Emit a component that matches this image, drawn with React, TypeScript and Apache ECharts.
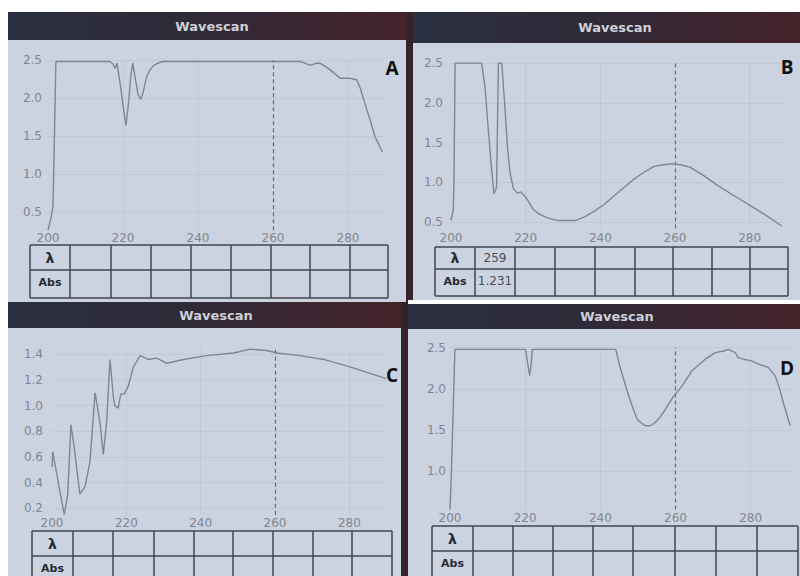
import React, { useEffect, useRef } from "react";
import * as echarts from "echarts";

// ---------- data ----------
const wavelengthA = [200, 200.7, 201.3, 201.6, 201.9, 202.1, 210, 216.5, 217.3, 217.9, 218.4, 219.2, 220, 220.8, 221.5, 222.1, 222.6, 223.3, 224, 224.7, 225.4, 226.3, 227.2, 228, 229.3, 230.7, 250, 267.2, 268.5, 269.9, 271, 272.5, 273.8, 275, 276, 277.9, 280.5, 282.3, 283.2, 284, 285, 285.9, 287.2, 288.3, 289.2];
const absorbanceA = [0.26, 0.4, 0.57, 1.2, 1.97, 2.48, 2.48, 2.48, 2.45, 2.39, 2.46, 2.2, 1.9, 1.64, 1.95, 2.3, 2.46, 2.25, 2.05, 1.98, 2.08, 2.28, 2.37, 2.42, 2.46, 2.48, 2.48, 2.48, 2.46, 2.43, 2.45, 2.46, 2.42, 2.38, 2.34, 2.26, 2.26, 2.24, 2.14, 2.01, 1.85, 1.71, 1.49, 1.38, 1.29];

const wavelengthB = [200, 200.6, 200.8, 201.1, 208.2, 209.1, 210, 210.8, 211.5, 211.9, 212.2, 212.7, 213.6, 214.5, 215.2, 215.8, 216.7, 217.8, 218.6, 219.5, 220.5, 222, 223.6, 226, 228.4, 233.5, 236, 238.5, 241, 243.7, 246.5, 249, 251.5, 254.4, 257, 259, 261.5, 264, 267.5, 271.1, 275.5, 280.1, 284.5, 288.6];
const absorbanceB = [0.52, 0.65, 1.03, 2.5, 2.5, 2.2, 1.66, 1.2, 0.86, 0.9, 0.94, 2.5, 2.5, 1.9, 1.4, 1.12, 0.92, 0.86, 0.88, 0.84, 0.78, 0.66, 0.6, 0.55, 0.52, 0.52, 0.57, 0.64, 0.72, 0.83, 0.94, 1.04, 1.12, 1.2, 1.22, 1.231, 1.22, 1.19, 1.09, 0.97, 0.84, 0.71, 0.58, 0.45];

const wavelengthC = [200, 200.2, 201.7, 203.3, 204.2, 205.1, 205.9, 207.5, 208.9, 210.2, 211.6, 212.9, 213.8, 214.7, 215.6, 216.5, 216.9, 217.8, 218.5, 219.4, 220.5, 221.9, 223.7, 225.9, 228.2, 230.9, 235.4, 241.6, 248.8, 253.3, 257.8, 260.5, 266.8, 273.1, 280.4, 289.9];
const absorbanceC = [0.52, 0.64, 0.4, 0.15, 0.3, 0.85, 0.69, 0.31, 0.37, 0.56, 1.1, 0.87, 0.62, 0.87, 1.36, 1.07, 1.0, 0.98, 1.09, 1.09, 1.15, 1.3, 1.39, 1.36, 1.37, 1.33, 1.36, 1.39, 1.41, 1.44, 1.43, 1.41, 1.39, 1.36, 1.3, 1.21];

const wavelengthD = [200, 200.4, 200.7, 201.1, 201.3, 220.1, 220.7, 221.2, 221.6, 221.9, 244.1, 245.4, 246.5, 247.6, 248.7, 249.8, 251, 252, 253.3, 254.6, 256, 257.3, 259.5, 261.7, 264.4, 267.9, 270.6, 272.8, 274.1, 275.9, 276.7, 278.1, 280.3, 282.1, 284.7, 286.5, 287.7, 288.7, 290.5];
const absorbanceD = [0.53, 1.02, 1.51, 2.16, 2.48, 2.48, 2.3, 2.16, 2.3, 2.48, 2.48, 2.24, 2.07, 1.91, 1.76, 1.63, 1.58, 1.55, 1.55, 1.59, 1.66, 1.75, 1.91, 2.03, 2.22, 2.36, 2.44, 2.46, 2.48, 2.44, 2.38, 2.36, 2.34, 2.3, 2.26, 2.16, 2.0, 1.83, 1.55];

const xTickLabels = [200, 220, 240, 260, 280];
const yTicksA = [0.5, 1.0, 1.5, 2.0, 2.5];
const yTicksB = [0.5, 1.0, 1.5, 2.0, 2.5];
const yTicksC = [0.2, 0.4, 0.6, 0.8, 1.0, 1.2, 1.4];
const yTicksD = [1.0, 1.5, 2.0, 2.5];
const cursorWavelength = 260;
const panelLetters = ["A", "B", "C", "D"];
const headerTitle = "Wavescan";
const rowLabels = ["λ", "Abs"];
const readoutB = ["259", "1.231"];

// ---------- layout ----------
const PANEL_BG = "#cbd3e1";
const CURVE = "#80858f";
const GRIDLINE = "#c0c8d6";
const LABEL = "#80858f";
const TABLE_LINE = "#40444e";
const FONT = '"DejaVu Sans", "Liberation Sans", sans-serif';

const panels = [
  {
    wl: wavelengthA, abs: absorbanceA, yTicks: yTicksA, yMin: 0.26, yMax: 2.5, xMax: 290,
    grid: { left: 48, top: 60, width: 337.5, height: 170.2 }, xMargin: 2, yMargin: 6,
    bg: [8, 12, 398, 290], header: [8, 12, 398, 28], titleX: 212,
    letter: [392, 68],
    cols: [30, 70, 111, 151, 191, 231, 271, 310, 350, 388], rows: [245, 270, 298],
  },
  {
    wl: wavelengthB, abs: absorbanceB, yTicks: yTicksB, yMin: 0.42, yMax: 2.5, xMax: 290,
    grid: { left: 451, top: 63, width: 336, height: 165.4 }, xMargin: 4, yMargin: 8,
    bg: [413, 12, 387, 288], header: [413, 12, 387, 31], titleX: 615,
    letter: [787, 67],
    cols: [435, 475, 515, 555, 595, 635, 673, 712, 750, 788], rows: [247, 269, 296],
  },
  {
    wl: wavelengthC, abs: absorbanceC, yTicks: yTicksC, yMin: 0.15, yMax: 1.45, xMax: 290,
    grid: { left: 52, top: 347.9, width: 334.5, height: 166.8 }, xMargin: 2, yMargin: 9,
    bg: [8, 302, 393, 274], header: [8, 302, 393, 26], titleX: 216,
    letter: [392, 375],
    cols: [32, 73, 113, 154, 194, 233, 273, 313, 352, 392], rows: [531, 556, 582],
  },
  {
    wl: wavelengthD, abs: absorbanceD, yTicks: yTicksD, yMin: 0.53, yMax: 2.5, xMax: 291,
    grid: { left: 450, top: 347.7, width: 342, height: 161.9 }, xMargin: 2, yMargin: 4,
    bg: [408, 304, 392, 272], header: [408, 304, 392, 25], titleX: 617,
    letter: [787, 368],
    cols: [432, 473, 513, 553, 593, 633, 675, 716, 757, 798], rows: [526, 551, 582],
  },
];

function buildGraphics() {
  const els: any[] = [];
  // dark frame bands between the screens
  els.push({ type: "rect", z: -20, shape: { x: 400, y: 12, width: 14, height: 564 }, style: { fill: "#35222a" } });
  panels.forEach((p, i) => {
    els.push({ type: "rect", z: -10, shape: { x: p.bg[0], y: p.bg[1], width: p.bg[2], height: p.bg[3] }, style: { fill: PANEL_BG } });
    els.push({
      type: "rect", z: -5,
      shape: { x: p.header[0], y: p.header[1], width: p.header[2], height: p.header[3] },
      style: {
        fill: new echarts.graphic.LinearGradient(0, 0, 1, 0, [
          { offset: 0, color: "#2a3041" },
          { offset: 0.45, color: "#2f2a38" },
          { offset: 1, color: "#45232b" },
        ]),
      },
    });
    els.push({
      type: "text", z: 50, x: p.titleX, y: p.header[1] + p.header[3] / 2,
      style: { text: headerTitle, fill: "#cfd1d9", font: `bold 13px ${FONT}`, align: "center", verticalAlign: "middle" },
    });
    els.push({
      type: "text", z: 50, x: p.letter[0], y: p.letter[1],
      style: { text: panelLetters[i], fill: "#111111", font: 'bold 19px "Open Sans", "Liberation Sans", sans-serif', align: "center", verticalAlign: "middle" },
    });
    const x0 = p.cols[0], x1 = p.cols[p.cols.length - 1];
    const y0 = p.rows[0], y1 = p.rows[p.rows.length - 1];
    p.rows.forEach((ry) => {
      els.push({ type: "line", z: 40, shape: { x1: x0, y1: ry, x2: x1, y2: ry }, style: { stroke: TABLE_LINE, lineWidth: 1.5 } });
    });
    p.cols.forEach((cx) => {
      els.push({ type: "line", z: 40, shape: { x1: cx, y1: y0, x2: cx, y2: y1 }, style: { stroke: TABLE_LINE, lineWidth: 1.5 } });
    });
    const cx0 = (p.cols[0] + p.cols[1]) / 2;
    const rowMid = [(p.rows[0] + p.rows[1]) / 2, p.rows[1] + 12];
    els.push({ type: "text", z: 50, x: cx0, y: rowMid[0], style: { text: rowLabels[0], fill: "#262a33", font: `bold 14px ${FONT}`, align: "center", verticalAlign: "middle" } });
    els.push({ type: "text", z: 50, x: cx0, y: rowMid[1], style: { text: rowLabels[1], fill: "#262a33", font: `bold 11px ${FONT}`, align: "center", verticalAlign: "middle" } });
    if (i === 1) {
      const cx1 = (p.cols[1] + p.cols[2]) / 2;
      els.push({ type: "text", z: 50, x: cx1, y: rowMid[0], style: { text: readoutB[0], fill: "#4a4e58", font: `12px ${FONT}`, align: "center", verticalAlign: "middle" } });
      els.push({ type: "text", z: 50, x: cx1, y: rowMid[1], style: { text: readoutB[1], fill: "#4a4e58", font: `12px ${FONT}`, align: "center", verticalAlign: "middle" } });
    }
  });
  // white separator on the right half
  els.push({ type: "rect", z: 60, shape: { x: 408, y: 300, width: 392, height: 4 }, style: { fill: "#ffffff" } });
  return els;
}

export default function App() {
  const ref = useRef<HTMLDivElement>(null);
  useEffect(() => {
    if (!ref.current) return;
    const chart = echarts.init(ref.current, null, { renderer: "svg" });
    const option: any = {
      animation: false,
      backgroundColor: "#ffffff",
      graphic: { elements: buildGraphics() },
      grid: panels.map((p) => ({ ...p.grid, outerBoundsMode: "none", containLabel: false })),
      xAxis: panels.map((p, i) => ({
        type: "value", gridIndex: i, min: 200, max: p.xMax,
        axisLine: { show: false }, axisTick: { show: false }, splitLine: { show: false },
        axisLabel: { customValues: xTickLabels, margin: p.xMargin, color: LABEL, fontSize: 12, fontFamily: FONT, hideOverlap: false },
      })),
      yAxis: panels.map((p, i) => ({
        type: "value", gridIndex: i, min: p.yMin, max: p.yMax,
        axisLine: { show: false }, axisTick: { show: false }, splitLine: { show: false },
        axisLabel: {
          customValues: p.yTicks, margin: p.yMargin, color: LABEL, fontSize: 12, fontFamily: FONT, hideOverlap: false,
          formatter: (v: number) => v.toFixed(1),
        },
      })),
      series: panels.map((p, i) => ({
        type: "line", xAxisIndex: i, yAxisIndex: i,
        data: p.wl.map((w, k) => [w, p.abs[k]]),
        showSymbol: false, symbol: "none",
        lineStyle: { color: CURVE, width: 1.4 },
        z: 5,
        markLine: {
          silent: true, symbol: "none", animation: false,
          label: { show: false },
          lineStyle: { color: GRIDLINE, type: "solid", width: 1 },
          data: [
            ...xTickLabels.filter((v) => v !== 200 && v !== cursorWavelength).map((v) => ({ xAxis: v })),
            ...p.yTicks.map((v) => ({ yAxis: v })),
            { xAxis: cursorWavelength, lineStyle: { color: "#656a76", type: [4, 3], width: 1.2 } },
          ],
        },
      })),
    };
    chart.setOption(option);
    return () => chart.dispose();
  }, []);
  return <div ref={ref} style={{ position: "absolute", left: 0, top: 0, width: 800, height: 576 }} />;
}
